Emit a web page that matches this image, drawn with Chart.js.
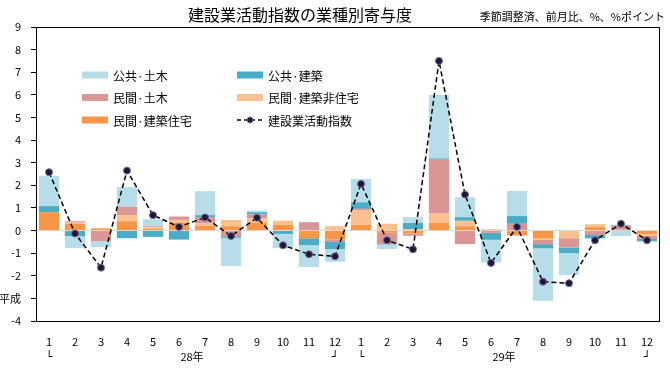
<!DOCTYPE html>
<html>
<head>
<meta charset="utf-8">
<script src="https://cdn.jsdelivr.net/npm/chart.js@4/dist/chart.umd.min.js"></script>
<style>
  body { margin: 0; background: #fff; }
  #wrap { width: 670px; height: 370px; }
</style>
</head>
<body>
<div id="wrap"><canvas id="grafico" width="670" height="370"></canvas></div>
<script>
// データ
let meses = ['1','2','3','4','5','6','7','8','9','10','11','12','1','2','3','4','5','6','7','8','9','10','11','12'];
let anos = ['28年', '29年'];

let juutaku      = [0.81, 0.29, 0.08, 0.41, 0.07, 0.35, 0.21, 0.19, 0.35, 0.25, -0.34, -0.40, 0.25, -0.10, -0.13, 0.34, 0.19, 0.02, -0.22, -0.35, 0, 0.15, 0.03, -0.15];
let hijuutaku    = [0, 0.06, 0.04, 0.27, 0.08, 0.12, 0.10, 0.28, 0.18, 0.19, 0, 0.19, 0.65, 0.30, 0.06, 0.41, 0.24, 0.04, 0, -0.07, -0.34, 0.13, 0, -0.09];
let minkanDoboku = [0, 0.06, -0.47, 0.38, 0.04, 0.15, 0.28, -0.25, 0.18, 0, 0.37, -0.10, 0.06, -0.50, -0.10, 2.38, -0.60, -0.10, 0.30, -0.18, -0.41, -0.20, 0.19, -0.13];
let koukyouKenchiku = [0.27, -0.25, 0, -0.34, -0.28, -0.40, 0.09, -0.07, 0.10, -0.15, -0.31, -0.32, 0.29, -0.02, 0.27, 0.06, 0.16, -0.31, 0.34, -0.19, -0.25, -0.13, 0.03, -0.09];
let koukyouDoboku = [1.34, -0.52, -0.27, 0.86, 0.31, 0, 1.06, -1.25, 0.07, -0.63, -0.96, -0.56, 1.03, -0.20, 0.26, 2.80, 0.88, -1.00, 1.11, -2.32, -0.97, -0.05, -0.24, -0.04];
let indice = [2.58, -0.13, -1.64, 2.65, 0.68, 0.16, 0.58, -0.24, 0.56, -0.65, -1.05, -1.14, 2.06, -0.43, -0.83, 7.50, 1.59, -1.43, 0.16, -2.26, -2.33, -0.43, 0.30, -0.43];

let fonte = '"Noto Sans CJK JP", "Noto Sans", sans-serif';

let cores = {
    koukyouDoboku: '#b7dde8',
    koukyouKenchiku: '#4bacc6',
    minkanDoboku: '#d99694',
    hijuutaku: '#fac090',
    juutaku: '#f79646'
};

// legenda desenhada à mão (2 colunas)
let itensLegenda = [
    {texto: '公共·土木', cor: cores.koukyouDoboku, col: 0, lin: 0},
    {texto: '公共·建築', cor: cores.koukyouKenchiku, col: 1, lin: 0},
    {texto: '民間·土木', cor: cores.minkanDoboku, col: 0, lin: 1},
    {texto: '民間·建築非住宅', cor: cores.hijuutaku, col: 1, lin: 1},
    {texto: '民間·建築住宅', cor: cores.juutaku, col: 0, lin: 2},
    {texto: '建設業活動指数', linha: true, col: 1, lin: 2}
];

let extras = {
    id: 'extras',
    afterDraw(chart){
        let c = chart.ctx;
        let area = chart.chartArea;
        c.save();

        // moldura
        c.strokeStyle = '#000';
        c.lineWidth = 1;
        c.strokeRect(area.left + 0.5, area.top + 0.5, area.right - area.left - 1, area.bottom - area.top);

        // títulos
        c.fillStyle = '#000';
        c.textBaseline = 'middle';
        c.textAlign = 'center';
        c.font = '16px ' + fonte;
        c.fillText('建設業活動指数の業種別寄与度', 300, 15);
        c.textAlign = 'right';
        c.font = '11px ' + fonte;
        c.fillText('季節調整済、前月比、%、%ポイント', 665, 17);

        // legenda
        c.textAlign = 'left';
        c.font = '12px ' + fonte;
        itensLegenda.forEach(function(it){
            let x = it.col == 0 ? 82 : 237;
            let y = 75 + it.lin * 22.5;
            if(it.linha){
                c.strokeStyle = '#000';
                c.lineWidth = 1.5;
                c.setLineDash([4, 3]);
                c.beginPath();
                c.moveTo(x, y);
                c.lineTo(x + 26, y);
                c.stroke();
                c.setLineDash([]);
                c.beginPath();
                c.arc(x + 13, y, 3, 0, Math.PI * 2);
                c.fillStyle = '#1c1830';
                c.fill();
                c.strokeStyle = '#7b63a3';
                c.lineWidth = 1;
                c.stroke();
            }else{
                c.fillStyle = it.cor;
                c.fillRect(x, y - 3.5, 26, 7);
            }
            c.fillStyle = '#000';
            c.fillText(it.texto, x + 31, y + 1);
        });

        // marcas de ano embaixo
        let xs = chart.scales.x;
        let yb = 357;
        c.textAlign = 'center';
        for(let a = 0; a < anos.length; a++){
            let ini = xs.getPixelForValue(a * 12);
            let fim = xs.getPixelForValue(a * 12 + 11);
            c.font = 'bold 11px "DejaVu Sans", sans-serif';
            c.fillText('└', ini, yb);
            c.fillText('┘', fim, yb);
            c.font = '11px ' + fonte;
            c.fillText(anos[a], (ini + fim) / 2, yb);
        }
        c.restore();
    }
};

function barra(rotulo, dados, cor){
    return {
        type: 'bar',
        label: rotulo,
        data: dados,
        backgroundColor: cor,
        borderWidth: 0,
        stack: 'contrib',
        order: 1,
        barPercentage: 0.78,
        categoryPercentage: 1
    };
}

let ctx = document.getElementById('grafico').getContext('2d');

let grafico = new Chart(ctx, {
    data: {
        labels: meses,
        datasets: [
            barra('民間·建築住宅', juutaku, cores.juutaku),
            barra('民間·建築非住宅', hijuutaku, cores.hijuutaku),
            barra('民間·土木', minkanDoboku, cores.minkanDoboku),
            barra('公共·建築', koukyouKenchiku, cores.koukyouKenchiku),
            barra('公共·土木', koukyouDoboku, cores.koukyouDoboku),
            {
                type: 'line',
                label: '建設業活動指数',
                data: indice,
                stack: 'indice',
                order: 0,
                borderColor: '#000',
                borderWidth: 1.5,
                borderDash: [5, 3],
                tension: 0,
                pointRadius: 3.5,
                pointBackgroundColor: '#1c1830',
                pointBorderColor: '#7b63a3',
                pointBorderWidth: 1
            }
        ]
    },
    options: {
        responsive: false,
        animation: false,
        layout: { padding: { top: 27, right: 10, bottom: 0, left: 0 } },
        plugins: {
            legend: { display: false },
            tooltip: { enabled: false }
        },
        scales: {
            x: {
                stacked: true,
                afterFit: function(s){ s.height = 49; },
                grid: { display: false },
                border: { display: false },
                ticks: {
                    color: '#000',
                    font: { family: fonte, size: 11 },
                    padding: 6,
                    maxRotation: 0,
                    autoSkip: false
                }
            },
            y: {
                stacked: true,
                min: -4,
                max: 9,
                afterFit: function(s){ s.width = 36; },
                border: { display: false },
                grid: {
                    drawOnChartArea: true,
                    color: function(c){ return c.tick && c.tick.value === 0 ? '#d9d9d9' : 'rgba(0,0,0,0)'; },
                    tickColor: '#000',
                    tickLength: 5
                },
                ticks: {
                    stepSize: 1,
                    color: '#000',
                    padding: 10,
                    font: { family: fonte, size: 11 },
                    callback: function(v){ return v === -3 ? '平成' : v; }
                }
            }
        }
    },
    plugins: [extras]
});
</script>
</body>
</html>
